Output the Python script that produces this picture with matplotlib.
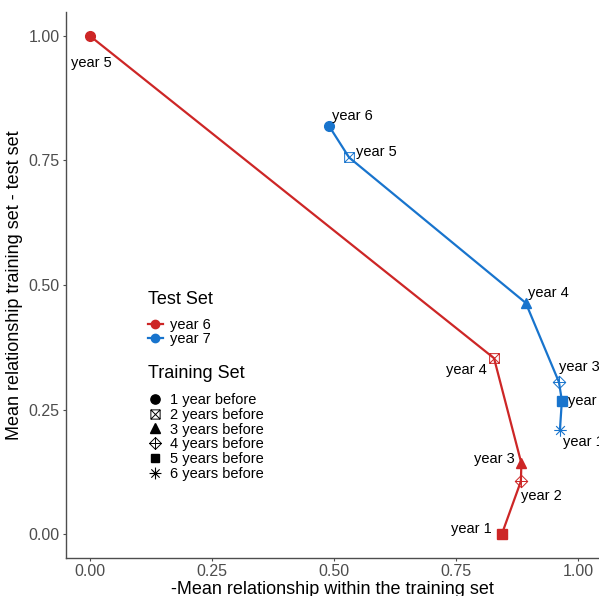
import matplotlib
matplotlib.use("Agg")
import matplotlib.pyplot as plt
from matplotlib.path import Path
from matplotlib.lines import Line2D

plt.rcParams["font.family"] = ["Liberation Sans", "DejaVu Sans"]

# training set offsets (legend) and per test-set series
training_labels = ["1 year before", "2 years before", "3 years before",
                   "4 years before", "5 years before", "6 years before"]
test_labels = ["year 6", "year 7"]
colors = ["#CD2626", "#1874CD"]

# test set year 6
red_x = [0.000, 0.828, 0.884, 0.883, 0.844]
red_y = [1.000, 0.353, 0.142, 0.106, 0.000]
red_years = ["year 5", "year 4", "year 3", "year 2", "year 1"]

# test set year 7
blue_x = [0.490, 0.531, 0.893, 0.961, 0.967, 0.963]
blue_y = [0.819, 0.756, 0.464, 0.305, 0.268, 0.209]
blue_years = ["year 6", "year 5", "year 4", "year 3", "year 2", "year 1"]

# label offsets in pixels (dx, dy, ha)
red_off = [(1, -27, "center"), (-7, -12, "right"), (-7, 4, "right"),
           (0, -15, "left"), (-10, 5, "right")]
blue_off = [(3, 10, "left"), (7, 5, "left"), (2, 10, "left"),
            (0, 15, "left"), (6, 0, "left"), (3, -12, "left")]

M, L = Path.MOVETO, Path.LINETO
sq_x = Path([(-1, -1), (1, -1), (1, 1), (-1, 1), (-1, -1), (1, 1), (-1, 1), (1, -1)],
            [M, L, L, L, L, L, M, L])
dia_plus = Path([(0, -1), (1, 0), (0, 1), (-1, 0), (0, -1), (0, 1), (-1, 0), (1, 0)],
                [M, L, L, L, L, L, M, L])
aster = Path([(-1, 0), (1, 0), (0, -1), (0, 1), (-.7, -.7), (.7, .7), (-.7, .7), (.7, -.7)],
             [M, L, M, L, M, L, M, L])

# marker style per training offset
shapes = [dict(marker="o", ms=7),
          dict(marker=sq_x, ms=7, mfc="none", mew=0.7),
          dict(marker="^", ms=7.5),
          dict(marker=dia_plus, ms=9, mfc="none", mew=0.7),
          dict(marker="s", ms=6.5),
          dict(marker=aster, ms=9, mfc="none", mew=0.8)]

fig = plt.figure(figsize=(5.99, 5.96), dpi=100)
ax = fig.add_axes([66 / 599, 38 / 596, 532 / 599, 546 / 596])

series = [(red_x, red_y, red_years, red_off), (blue_x, blue_y, blue_years, blue_off)]
for (xs, ys, yrs, offs), c in zip(series, colors):
    ax.plot(xs, ys, color=c, lw=1.6, zorder=2)
    for i in range(len(xs)):
        st = dict(shapes[i])
        st.setdefault("mfc", c)
        ax.plot([xs[i]], [ys[i]], linestyle="none", color=c, mec=c, zorder=3, **st)
        dx, dy, ha = offs[i]
        ax.annotate(yrs[i], (xs[i], ys[i]), xytext=(dx * 0.72, dy * 0.72),
                    textcoords="offset points", ha=ha, va="center",
                    fontsize=10.5, color="black", annotation_clip=False)

ax.set_xlim(-0.049, 1.041)
ax.set_ylim(-0.048, 1.048)
ticks = [0.0, 0.25, 0.5, 0.75, 1.0]
ax.set_xticks(ticks)
ax.set_yticks(ticks)
ax.set_xticklabels([f"{t:.2f}" for t in ticks])
ax.set_yticklabels([f"{t:.2f}" for t in ticks])
ax.tick_params(colors="#4D4D4D", labelsize=11.5, length=2.5, width=0.8, pad=2)
for s in ["top", "right"]:
    ax.spines[s].set_visible(False)
for s in ["left", "bottom"]:
    ax.spines[s].set_color("#4D4D4D")
    ax.spines[s].set_linewidth(1.0)
ax.set_xlabel("-Mean relationship within the training set", fontsize=13, labelpad=1)
ax.set_ylabel("Mean relationship training set - test set", fontsize=13, labelpad=4)

# legends
test_handles = [Line2D([], [], color=c, lw=1.6, marker="o", ms=6) for c in colors]
leg1 = ax.legend(test_handles, test_labels, title="Test Set", loc="upper left",
                 bbox_to_anchor=(148 / 599, 1 - 291 / 596), bbox_transform=fig.transFigure,
                 frameon=False, fontsize=10.5, title_fontsize=13, alignment="left",
                 handlelength=1.0, handletextpad=0.5, labelspacing=0.0, borderpad=0,
                 borderaxespad=0)
leg1._legend_box.sep = 7.5
ax.add_artist(leg1)
train_handles = []
for st in shapes:
    st = dict(st)
    st.setdefault("mfc", "black")
    st["ms"] = st["ms"] * 0.95
    train_handles.append(Line2D([], [], linestyle="none", color="black", mec="black", **st))
leg2 = ax.legend(train_handles, training_labels, title="Training Set", loc="upper left",
                 bbox_to_anchor=(148 / 599, 1 - 365 / 596), bbox_transform=fig.transFigure,
                 frameon=False, fontsize=10.5, title_fontsize=13, alignment="left",
                 handlelength=1.0, handletextpad=0.5, labelspacing=0.05, borderpad=0,
                 borderaxespad=0)
leg2._legend_box.sep = 8

fig.savefig("out.png", dpi=100)
